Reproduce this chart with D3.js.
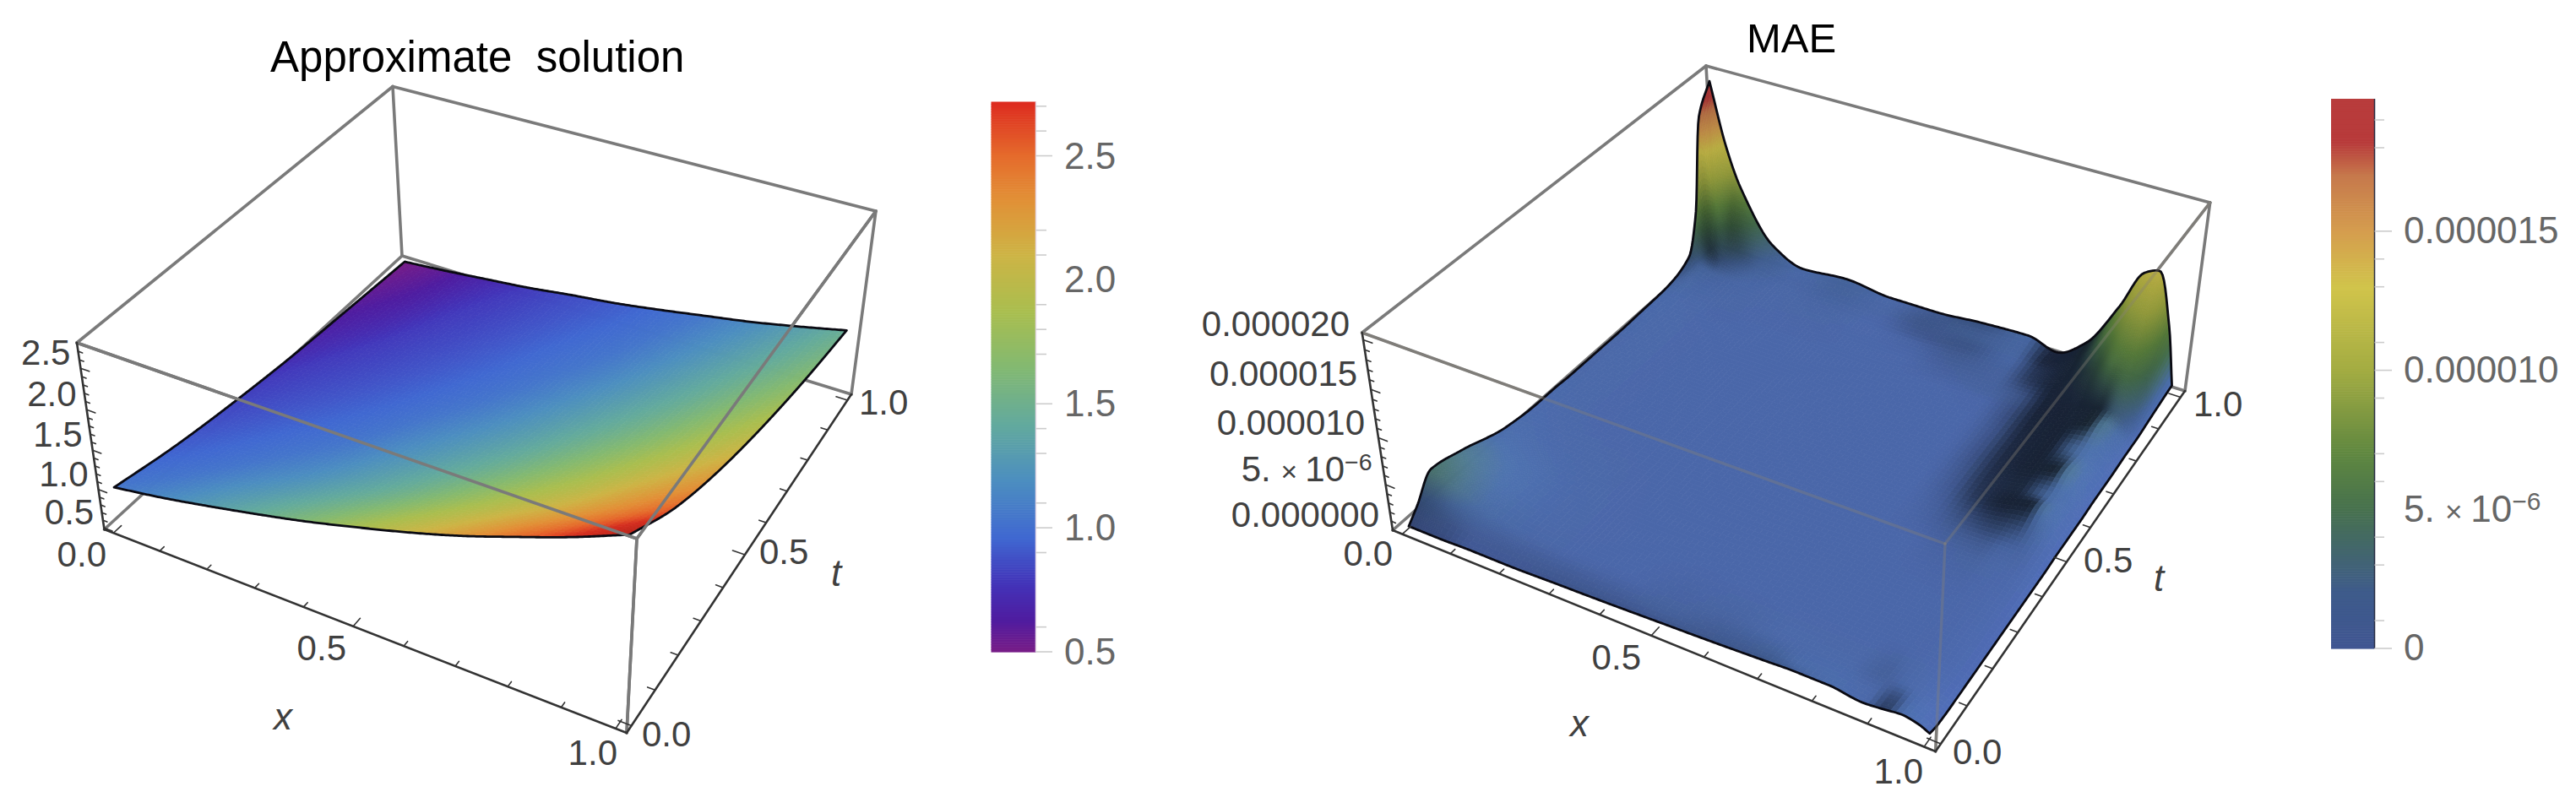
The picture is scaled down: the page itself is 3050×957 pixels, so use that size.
<!DOCTYPE html>
<html>
<head>
<meta charset="utf-8">
<script src="https://d3js.org/d3.v7.min.js"></script>
<style>
html, body { margin: 0; padding: 0; background: #fff; }
svg { display: block; }
text { font-family: "Liberation Sans", Arial, sans-serif; white-space: pre; }
</style>
</head>
<body>
<script>
// approximate solution
var solX = [0, 0.1, 0.2, 0.3, 0.4, 0.5, 0.6, 0.7, 0.8, 0.9, 1];
var solT = [0, 0.2, 0.4, 0.6, 0.8, 1];
var solZ = [
    [1.00, 1.10, 1.22, 1.35, 1.49, 1.65, 1.82, 2.01, 2.23, 2.46, 2.72],
    [0.83, 0.92, 1.02, 1.12, 1.24, 1.37, 1.52, 1.68, 1.85, 2.05, 2.26],
    [0.71, 0.79, 0.87, 0.96, 1.07, 1.18, 1.30, 1.44, 1.59, 1.76, 1.94],
    [0.62, 0.69, 0.76, 0.84, 0.93, 1.03, 1.14, 1.26, 1.39, 1.54, 1.70],
    [0.56, 0.61, 0.68, 0.75, 0.83, 0.92, 1.01, 1.12, 1.24, 1.37, 1.51],
    [0.50, 0.55, 0.61, 0.67, 0.75, 0.82, 0.91, 1.01, 1.11, 1.23, 1.36]
];

// MAE in units of 1e-6
var maeX = [0, 0.03, 0.06, 0.13, 0.2, 0.3, 0.4, 0.5, 0.6, 0.7, 0.76, 0.82, 0.88, 0.92, 0.95, 0.98, 1];
var maeT = [0, 0.03, 0.08, 0.17, 0.3, 0.4, 0.45, 0.5, 0.56, 0.6, 0.66, 0.73, 0.8, 0.84, 0.9, 0.93, 0.96, 1];
var maeZ = [
    [0.2, 0.2, 0.2, 0.3, 0.3, 0.45, 0.6, 0.8, 1.0, 1.25, 1.4, 1.4, 1.0, 1.2, 1.4, 1.1, 0.6],
    [1.5, 1.3, 1.0, 0.6, 0.6, 0.7, 0.8, 0.9, 1.0, 1.2, 1.2, 1.2, 0.9, 1.1, 1.2, 0.9, 0.3],
    [3.9, 3.4, 2.8, 1.6, 1.0, 0.8, 0.8, 0.8, 0.9, 0.9, 0.9, 0.9, 0.9, 1.0, 0.9, 0.6, 0.2],
    [3.1, 2.8, 2.4, 1.5, 1.0, 0.8, 0.8, 0.8, 0.8, 0.8, 0.8, 0.8, 0.8, 0.8, 0.7, 0.5, 0.2],
    [1.5, 1.4, 1.2, 1.0, 0.9, 0.8, 0.8, 0.8, 0.8, 0.8, 0.8, 0.8, 0.8, 0.8, 0.7, 0.5, 0.2],
    [1.1, 1.0, 0.9, 0.8, 0.8, 0.8, 0.8, 0.8, 0.8, 0.8, 0.8, 0.8, 0.85, 0.85, 0.8, 0.6, 0.2],
    [1.1, 1.0, 0.9, 0.8, 0.8, 0.8, 0.8, 0.8, 0.8, 0.8, 0.8, 0.85, 0.95, 1.0, 0.95, 0.7, 0.2],
    [1.0, 1.0, 0.9, 0.8, 0.8, 0.8, 0.8, 0.8, 0.8, 0.8, 0.8, 0.9, 1.2, 1.4, 1.4, 0.9, 0.3],
    [1.0, 1.0, 0.9, 0.8, 0.8, 0.8, 0.8, 0.8, 0.8, 0.8, 0.8, 1.0, 1.6, 2.1, 2.3, 1.2, 0.3],
    [1.0, 1.0, 0.9, 0.8, 0.8, 0.8, 0.8, 0.8, 0.8, 0.8, 0.8, 1.05, 1.7, 1.9, 1.9, 1.1, 0.3],
    [1.0, 1.0, 0.9, 0.8, 0.8, 0.8, 0.8, 0.8, 0.8, 0.8, 0.8, 1.1, 1.8, 2.3, 2.6, 1.4, 0.4],
    [1.1, 1.0, 0.9, 0.8, 0.8, 0.8, 0.8, 0.8, 0.8, 0.8, 0.8, 1.1, 1.85, 2.1, 2.0, 1.2, 0.4],
    [1.2, 1.1, 0.9, 0.8, 0.8, 0.8, 0.8, 0.8, 0.8, 0.8, 0.8, 1.15, 1.9, 2.5, 2.8, 1.7, 0.5],
    [1.4, 1.2, 1.0, 0.9, 0.8, 0.8, 0.8, 0.8, 0.8, 0.9, 0.9, 1.2, 2.0, 2.5, 2.8, 1.9, 0.5],
    [2.5, 1.6, 1.2, 1.0, 0.9, 0.9, 0.8, 0.7, 0.9, 1.0, 1.0, 1.8, 4.0, 6.2, 6.8, 4.2, 0.7],
    [6.5, 3.2, 2.0, 1.2, 0.9, 1.0, 0.8, 0.7, 1.1, 1.1, 1.0, 2.0, 5.2, 8.0, 8.8, 5.4, 0.8],
    [17, 7.5, 4.2, 1.6, 1.0, 1.2, 0.9, 1.0, 1.3, 1.3, 0.9, 2.4, 6.6, 10, 10.8, 6.5, 0.9],
    [19.8, 13, 8.6, 2.9, 1.2, 1.6, 1.0, 1.0, 1.4, 1.6, 0.7, 2.8, 8.0, 12.3, 13, 7.5, 1.0]
];

// colour bars
var solStops = [0.5, 0.63, 0.78, 0.96, 1.19, 1.42, 1.65, 1.87, 2.1, 2.33, 2.5, 2.72];
var solColors = ["#781c86", "#4f1ca0", "#4234b9", "#4068d1", "#4c8ec0", "#63aa9d", "#83b971", "#a9be4f", "#cdb445", "#e28f36", "#e56b2c", "#dd2a1f"];
var maeStops = [0, 2, 5, 7, 10, 13, 15, 17, 18.2, 19.8];
var maeColors = ["#3f5591", "#3e5b8b", "#47714e", "#5f8740", "#a3ac42", "#d1c44b", "#d59d4e", "#c6794c", "#b83a3a", "#b83c3c"];

// the surface runs ahead of its colour bar, read at a few heights
var solSurfaceZ = [0.5, 0.67, 1, 1.36, 1.65, 1.9, 2.2, 2.45, 2.72];
var solSurfaceKey = [0.5, 0.8, 1.04, 1.46, 1.85, 2.15, 2.45, 2.7, 2.72];

var unitTicks = [0, 0.1, 0.2, 0.3, 0.4, 0.5, 0.6, 0.7, 0.8, 0.9, 1];
var solZMajor = [0.5, 1, 1.5, 2, 2.5];
var solZMinor = [0.6, 0.7, 0.8, 0.9, 1.1, 1.2, 1.3, 1.4, 1.6, 1.7, 1.8, 1.9, 2.1, 2.2, 2.3, 2.4, 2.6, 2.7];
var maeZMajor = [0, 5, 10, 15, 20];
var maeZMinor = [1, 2, 3, 4, 6, 7, 8, 9, 11, 12, 13, 14, 16, 17, 18, 19];

var solBarMinor = [2.7, 2.6, 2.2, 2.1, 1.9, 1.8, 1.7, 1.4, 1.3, 1.1, 0.9, 0.6];
var solBarMajor = [2.5, 1.5, 1.0, 0.5];
var solBarLabels = ["2.5", "2.0", "1.5", "1.0", "0.5"];
var solBarValues = [2.5, 2.0, 1.5, 1.0, 0.5];
var maeBarMinor = [19, 18, 14, 13, 11, 9, 7, 6, 4, 3, 1];
var maeBarMajor = [15, 10, 0];

var w = 3050, h = 957;
var svg = d3.select("body").append("svg").attr("width", w).attr("height", h);

// perspective box: corners in page pixels, weights act as depth
function makeBox(c, zDomain) {
    var sx = d3.scaleLinear().domain([-0.02, 1.02]).range([0, 1]);
    var st = d3.scaleLinear().domain([-0.02, 1.02]).range([0, 1]);
    var sz = d3.scaleLinear().domain(zDomain).range([0, 1]);
    var project = function (x, t, z) {
        var u = sx(x), v = st(t), n = sz(z);
        var sum = [0, 0], total = 0;
        [[0, 0, 0, c.e], [1, 0, 0, c.f], [1, 1, 0, c.g], [0, 1, 0, c.h],
         [0, 0, 1, c.c], [1, 0, 1, c.d], [1, 1, 1, c.b], [0, 1, 1, c.a]].forEach(function (k) {
            var depth = 1 - 0.09 * k[0] + 0.1 * k[1] - 0.06 * k[2];
            var b = (k[0] ? u : 1 - u) * (k[1] ? v : 1 - v) * (k[2] ? n : 1 - n) * depth;
            sum[0] += b * k[3][0];
            sum[1] += b * k[3][1];
            total += b;
        });
        return [sum[0] / total, sum[1] / total];
    };
    project.zMin = zDomain[0];
    project.zMax = zDomain[1];
    project.c = c;
    return project;
}

function seg(g, a, b, color, width, opacity) {
    g.append("line")
        .attr("x1", a[0]).attr("y1", a[1])
        .attr("x2", b[0]).attr("y2", b[1])
        .attr("stroke", color)
        .attr("stroke-width", width)
        .attr("stroke-linecap", "round")
        .attr("opacity", opacity === undefined ? 1 : opacity);
}

function drawBoxBack(g, box) {
    var c = box.c;
    [[c.a, c.b], [c.a, c.c], [c.a, c.h], [c.b, c.g], [c.h, c.g], [c.h, c.e],
     [c.c, c.d], [c.d, c.b], [c.d, c.f]].forEach(function (p) {
        seg(g, p[0], p[1], "#7a7a7a", 3.6);
    });
}

function drawAxes(g, box, zMajor, zMinor) {
    var c = box.c;
    var axisColor = "#333";
    seg(g, c.e, c.f, axisColor, 2.6);
    seg(g, c.f, c.g, axisColor, 2.6);
    seg(g, c.e, c.c, axisColor, 2.6);
    var z0 = box.zMin;
    unitTicks.forEach(function (v, i) {
        var major = i % 5 === 0;
        seg(g, box(v, -0.02, z0), box(v, major ? 0.005 : -0.006, z0), axisColor, 1.6);
        seg(g, box(1.02, v, z0), box(major ? 0.996 : 1.006, v, z0), axisColor, 1.6);
    });
    zMajor.forEach(function (v) {
        seg(g, box(-0.02, -0.02, v), box(-0.002, -0.02, v), axisColor, 1.6);
    });
    zMinor.forEach(function (v) {
        seg(g, box(-0.02, -0.02, v), box(-0.011, -0.02, v), axisColor, 1.6);
    });
}

function cellIndex(arr, v) {
    return Math.max(0, Math.min(arr.length - 2, d3.bisectRight(arr, v) - 1));
}

function slopeAt(xs, ys, i) {
    if (i === 0) return (ys[1] - ys[0]) / (xs[1] - xs[0]);
    var n = xs.length - 1;
    if (i === n) return (ys[n] - ys[n - 1]) / (xs[n] - xs[n - 1]);
    var d0 = (ys[i] - ys[i - 1]) / (xs[i] - xs[i - 1]);
    var d1 = (ys[i + 1] - ys[i]) / (xs[i + 1] - xs[i]);
    if (d0 * d1 <= 0) return 0;
    return 2 * d0 * d1 / (d0 + d1);
}

// monotone cubic along one line of the table
function hermite(xs, ys, x) {
    var i = cellIndex(xs, x);
    var h1 = xs[i + 1] - xs[i];
    var s = (x - xs[i]) / h1;
    var m0 = slopeAt(xs, ys, i), m1 = slopeAt(xs, ys, i + 1);
    var s2 = s * s, s3 = s2 * s;
    return (2 * s3 - 3 * s2 + 1) * ys[i] + (s3 - 2 * s2 + s) * h1 * m0 +
        (-2 * s3 + 3 * s2) * ys[i + 1] + (s3 - s2) * h1 * m1;
}

function smooth(grid, xs, ts, x, t) {
    var j = cellIndex(ts, t);
    var lo = Math.max(0, j - 1), hi = Math.min(ts.length - 1, j + 2);
    var tSub = ts.slice(lo, hi + 1);
    var vals = grid.slice(lo, hi + 1).map(function (row) {
        return hermite(xs, row, x);
    });
    return hermite(tSub, vals, t);
}

// brightness per grid node from the slope, for the lit surface
function nodeShade(grid, xs, ts) {
    return grid.map(function (row, j) {
        return row.map(function (z, i) {
            var i0 = Math.max(0, i - 1), i1 = Math.min(xs.length - 1, i + 1);
            var j0 = Math.max(0, j - 1), j1 = Math.min(ts.length - 1, j + 1);
            var dx = (row[i1] - row[i0]) / (xs[i1] - xs[i0]);
            var dt = (grid[j1][i] - grid[j0][i]) / (ts[j1] - ts[j0]);
            var dark = Math.min(0.8, 0.085 * Math.max(0, dx) + 0.009 * Math.max(0, dt));
            var light = 0.005 * Math.max(0, -dx) + 0.003 * Math.max(0, -dt);
            var lit = Math.max(0.34, Math.min(1.28, 1.18 - dark + Math.min(0.1, light)));
            var high = Math.max(0, Math.min(1, (z - 2.8) / 3.2));
            return lit + (0.88 - lit) * high;
        });
    });
}

function drawSurface(g, box, grid, xs, ts, color, shade, fineness) {
    var patches = [];
    for (var j = ts.length - 2; j >= 0; j--) {
        for (var i = 0; i < xs.length - 1; i++) {
            // steep cells get more pieces
            var spread = d3.max([grid[j][i], grid[j][i + 1], grid[j + 1][i], grid[j + 1][i + 1]]) -
                d3.min([grid[j][i], grid[j][i + 1], grid[j + 1][i], grid[j + 1][i + 1]]);
            var extra = shade ? Math.min(5, 1 + Math.floor(spread)) : 1;
            var nx = Math.max(1, Math.ceil((xs[i + 1] - xs[i]) / fineness)) * extra;
            var nt = Math.max(1, Math.ceil((ts[j + 1] - ts[j]) / fineness)) * extra;
            for (var b = nt - 1; b >= 0; b--) {
                for (var a = 0; a < nx; a++) {
                    patches.push({
                        x0: xs[i] + (xs[i + 1] - xs[i]) * a / nx,
                        x1: xs[i] + (xs[i + 1] - xs[i]) * (a + 1) / nx,
                        t0: ts[j] + (ts[j + 1] - ts[j]) * b / nt,
                        t1: ts[j] + (ts[j + 1] - ts[j]) * (b + 1) / nt
                    });
                }
            }
        }
    }
    var z = function (x, t) { return smooth(grid, xs, ts, x, t); };
    var fill = function (d) {
        var mx = (d.x0 + d.x1) / 2, mt = (d.t0 + d.t1) / 2;
        var col = d3.rgb(color(z(mx, mt)));
        if (!shade) return col.formatHex();
        var s = smooth(shade, xs, ts, mx, mt);
        return d3.rgb(col.r * s, col.g * s, col.b * s).formatHex();
    };
    g.selectAll("path.patch")
        .data(patches)
        .enter()
        .append("path")
        .attr("class", "patch")
        .attr("d", function (d) {
            return "M" + [box(d.x0, d.t0, z(d.x0, d.t0)), box(d.x1, d.t0, z(d.x1, d.t0)),
                box(d.x1, d.t1, z(d.x1, d.t1)), box(d.x0, d.t1, z(d.x0, d.t1))].join("L") + "Z";
        })
        .attr("fill", fill)
        .attr("stroke", fill)
        .attr("stroke-width", 0.8);

    var line = d3.line();
    var steps = d3.range(0, 1.0001, 0.004);
    var edge = [];
    steps.forEach(function (s) { edge.push(box(s, 0, z(s, 0))); });
    steps.forEach(function (s) { edge.push(box(1, s, z(1, s))); });
    steps.forEach(function (s) { edge.push(box(1 - s, 1, z(1 - s, 1))); });
    steps.forEach(function (s) { edge.push(box(0, 1 - s, z(0, 1 - s))); });
    g.append("path")
        .attr("d", line(edge) + "Z")
        .attr("fill", "none")
        .attr("stroke", "#0a0a12")
        .attr("stroke-width", 2.8)
        .attr("stroke-linejoin", "round");
}

function axisLabel(g, text, x, y, anchor) {
    return g.append("text")
        .attr("x", x).attr("y", y)
        .attr("text-anchor", anchor)
        .attr("font-size", 42)
        .attr("fill", "#404040")
        .text(text);
}

function colorBar(g, color, domain, top, bottom, left, right, edge) {
    var y = d3.scaleLinear().domain(domain).range([bottom, top]);
    var n = 220;
    g.selectAll("rect.slice")
        .data(d3.range(n))
        .enter()
        .append("rect")
        .attr("class", "slice")
        .attr("x", left)
        .attr("width", right - left)
        .attr("y", function (i) { return y(domain[0] + (domain[1] - domain[0]) * (i + 1) / n); })
        .attr("height", (bottom - top) / n + 0.6)
        .attr("fill", function (i) { return color(domain[0] + (domain[1] - domain[0]) * (i + 0.5) / n); });
    g.append("line")
        .attr("x1", right).attr("x2", right)
        .attr("y1", top).attr("y2", bottom)
        .attr("stroke", edge).attr("stroke-width", 1.5);
    return y;
}

function barTicks(g, y, values, x0, x1) {
    g.selectAll(null)
        .data(values)
        .enter()
        .append("line")
        .attr("x1", x0).attr("x2", x1)
        .attr("y1", function (d) { return y(d); })
        .attr("y2", function (d) { return y(d); })
        .attr("stroke", "#ccc")
        .attr("stroke-width", 1.6);
}

function barLabel(g, text, x, y) {
    return g.append("text")
        .attr("x", x).attr("y", y)
        .attr("font-size", 44)
        .attr("fill", "#666")
        .text(text);
}

function powerLabel(sel, size) {
    sel.text(null);
    sel.append("tspan").text("5. ");
    sel.append("tspan").attr("font-size", size * 0.8).text("\u00d7 ");
    sel.append("tspan").text("10");
    sel.append("tspan").attr("font-size", size * 0.68).attr("dy", -size * 0.32).text("\u22126");
}

// left plot
var solColor = d3.scaleLinear().domain(solStops).range(solColors);
var solKey = d3.scaleLinear().domain(solSurfaceZ).range(solSurfaceKey);
var solSurfaceColor = function (z) {
    var c = d3.rgb(solColor(solKey(z)));
    var dim = z > 2.35 ? 1 - (z - 2.35) * 0.45 : 1;
    return d3.rgb(c.r * dim, c.g * dim, c.b * dim);
};
var left = svg.append("g");
var solBox = makeBox({
    a: [465, 102.5], b: [1037, 250], c: [91, 406], d: [754, 638],
    e: [123.5, 627], f: [742, 868], g: [1008, 467], h: [476, 303]
}, [0.48, 2.8]);

left.append("text")
    .attr("x", 320).attr("y", 85)
    .attr("font-size", 51)
    .attr("fill", "#000")
    .text("Approximate  solution");

drawBoxBack(left, solBox);
drawSurface(left, solBox, solZ, solX, solT, solSurfaceColor, null, 0.0125);
var cs = solBox.c;
seg(left, cs.c, cs.d, "#7a7a7a", 3.6);
seg(left, cs.d, cs.b, "#7a7a7a", 3.6);
seg(left, cs.d, cs.f, "#7a7a7a", 3.6);
drawAxes(left, solBox, solZMajor, solZMinor);

solZMajor.forEach(function (v) {
    var p = solBox(-0.02, -0.02, v);
    axisLabel(left, v.toFixed(1), p[0] - 12, p[1] - 4, "end");
});
axisLabel(left, "0.0", 126, 671, "end");
axisLabel(left, "0.5", 410, 782, "end");
axisLabel(left, "1.0", 731, 906, "end");
axisLabel(left, "0.0", 760, 884, "start");
axisLabel(left, "0.5", 899, 668, "start");
axisLabel(left, "1.0", 1017, 491, "start");
axisLabel(left, "x", 335, 864, "middle").attr("font-style", "italic").attr("font-size", 44);
axisLabel(left, "t", 990, 694, "middle").attr("font-style", "italic").attr("font-size", 44);

var solY = colorBar(left, solColor, [0.5, 2.718], 120.5, 772, 1173.5, 1226.5, "#e5d8e5");
barTicks(left, solY, solBarMinor, 1226.5, 1239);
barTicks(left, solY, solBarMajor, 1226.5, 1246);
solBarLabels.forEach(function (t, i) {
    barLabel(left, t, 1260, solY(solBarValues[i]) + 15);
});

// right plot
var maeColor = d3.scaleLinear().domain(maeStops).range(maeColors);
var right = svg.append("g");
var maeBox = makeBox({
    a: [2020, 78], b: [2616.7, 240], c: [1612.7, 394], d: [2303, 644],
    e: [1649, 628], f: [2291.7, 890], g: [2587, 463], h: [2032, 290]
}, [0, 20.7]);

right.append("text")
    .attr("x", 2068).attr("y", 62)
    .attr("font-size", 49)
    .attr("fill", "#000")
    .text("MAE");

drawBoxBack(right, maeBox);
drawSurface(right, maeBox, maeZ, maeX, maeT, maeColor, nodeShade(maeZ, maeX, maeT), 0.012);
var cm = maeBox.c;
seg(right, cm.c, cm.d, "#8a8478", 3.4, 0.35);
seg(right, cm.d, cm.b, "#8a8478", 3.4, 0.35);
seg(right, cm.d, cm.f, "#8a8478", 3.4, 0.35);
drawAxes(right, maeBox, maeZMajor, maeZMinor);

["0.000000", null, "0.000010", "0.000015", "0.000020"].forEach(function (t, i) {
    var p = maeBox(-0.02, -0.02, maeZMajor[i]);
    var label = axisLabel(right, t, p[0] - 16, p[1] - 4, "end");
    if (t === null) powerLabel(label, 42);
});
axisLabel(right, "0.0", 1649, 670, "end");
axisLabel(right, "0.5", 1943, 793, "end");
axisLabel(right, "1.0", 2277, 928, "end");
axisLabel(right, "0.0", 2312, 905, "start");
axisLabel(right, "0.5", 2467, 678, "start");
axisLabel(right, "1.0", 2597, 493, "start");
axisLabel(right, "x", 1870, 872, "middle").attr("font-style", "italic").attr("font-size", 44);
axisLabel(right, "t", 2556, 700, "middle").attr("font-style", "italic").attr("font-size", 44);

var maeY = colorBar(right, maeColor, [0, 19.76], 117, 768, 2760, 2811.5, "#2a2f45");
barTicks(right, maeY, maeBarMinor, 2811.5, 2823);
barTicks(right, maeY, maeBarMajor, 2811.5, 2832);
barLabel(right, "0.000015", 2846, maeY(15) + 14);
barLabel(right, "0.000010", 2846, maeY(10) + 14);
powerLabel(barLabel(right, "", 2846, maeY(5) + 15), 44);
barLabel(right, "0", 2846, maeY(0) + 14);
</script>
</body>
</html>
